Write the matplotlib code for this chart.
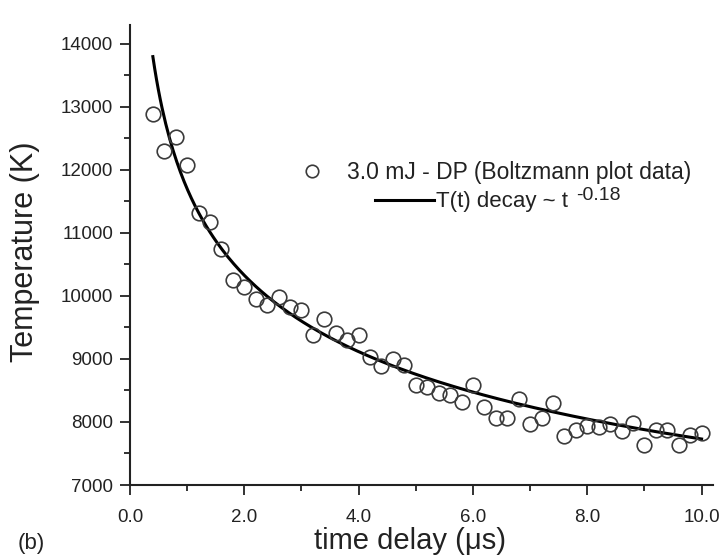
import numpy as np
import matplotlib
matplotlib.use('Agg')
from matplotlib import pyplot as plt
from matplotlib.lines import Line2D
from matplotlib.ticker import MultipleLocator, FormatStrFormatter

# Boltzmann plot data (time delay in us, temperature in K)
time_delay = [0.4, 0.6, 0.8, 1.0, 1.2, 1.4, 1.6, 1.8, 2.0, 2.2,
              2.4, 2.6, 2.8, 3.0, 3.2, 3.4, 3.6, 3.8, 4.0, 4.2,
              4.4, 4.6, 4.8, 5.0, 5.2, 5.4, 5.6, 5.8, 6.0, 6.2,
              6.4, 6.6, 6.8, 7.0, 7.2, 7.4, 7.6, 7.8, 8.0, 8.2,
              8.4, 8.6, 8.8, 9.0, 9.2, 9.4, 9.6, 9.8, 10.0]
temperature = [12890, 12300, 12520, 12080, 11310, 11180, 10750, 10250, 10150, 9950,
               9860, 9990, 9820, 9770, 9380, 9630, 9420, 9300, 9380, 9030,
               8890, 9000, 8900, 8590, 8550, 8460, 8430, 8320, 8590, 8230,
               8060, 8060, 8360, 7970, 8060, 8300, 7770, 7880, 7930, 7920,
               7970, 7860, 7990, 7640, 7880, 7870, 7640, 7790, 7820]

# power law fit T(t) = A * t^n
fit_amp = 11700
fit_exp = -0.18
fit_t = np.linspace(0.4, 10.0, 300)
fit_T = fit_amp * fit_t ** fit_exp

W, H = 726, 556
plt.rcParams['font.family'] = ['Liberation Sans', 'DejaVu Sans']
INK = '#222222'

fig = plt.figure(figsize=(W / 100, H / 100), dpi=100)
ax = fig.add_axes([130 / W, (H - 485) / H, 583 / W, 460 / H])

ax.plot(fit_t, fit_T, '-', color='black', lw=2.2, zorder=2)
ax.plot(time_delay, temperature, 'o', ms=10.5, mfc='none', mec='#3a3a3a', mew=1.2, zorder=3)

ax.set_xlim(0, 10.2)
ax.set_ylim(7000, 14300)
ax.xaxis.set_major_locator(MultipleLocator(2))
ax.xaxis.set_minor_locator(MultipleLocator(1))
ax.xaxis.set_major_formatter(FormatStrFormatter('%.1f'))
ax.yaxis.set_major_locator(MultipleLocator(1000))
ax.yaxis.set_minor_locator(MultipleLocator(500))

for s in ['top', 'right']:
    ax.spines[s].set_visible(False)
for s in ['left', 'bottom']:
    ax.spines[s].set_linewidth(1.5)
    ax.spines[s].set_color(INK)

ax.tick_params(which='major', direction='out', length=7, width=1.3, labelsize=13.5,
               colors=INK)
ax.tick_params(axis='x', which='major', pad=10)
ax.tick_params(axis='y', which='major', pad=5)
ax.tick_params(which='minor', direction='out', length=4, width=1.3, colors=INK)

ax.set_xlabel('time delay (\u03bcs)', fontsize=21, color=INK, va='center')
ax.set_ylabel('Temperature (K)', fontsize=22, color=INK, va='center')
ax.xaxis.set_label_coords((410 - 130) / 583, (485 - 541) / 460)
ax.yaxis.set_label_coords((25 - 130) / 583, (485 - 252) / 460)

# legend drawn by hand to keep the original offset layout
def fx(px):
    return px / W

def fy(py):
    return (H - py) / H

fig.add_artist(Line2D([fx(312)], [fy(171)], marker='o', ms=9, mfc='none', mec='#3a3a3a',
                      mew=1.2, transform=fig.transFigure))
fig.text(fx(347), fy(172), '3.0 mJ - DP (Boltzmann plot data)', fontsize=16.5,
         va='center', ha='left', color=INK)
fig.add_artist(Line2D([fx(375), fx(434)], [fy(200), fy(200)], color='black', lw=2.2,
                      transform=fig.transFigure))
fig.text(fx(436), fy(201), 'T(t) decay ~ t', fontsize=16, va='center', ha='left',
         color=INK)
fig.text(fx(576), fy(196), '-0.18', fontsize=14, va='center', ha='left', color=INK)

fig.text(fx(31), fy(543), '(b)', fontsize=16, va='center', ha='center', color=INK)

fig.savefig('out.png', dpi=100)
